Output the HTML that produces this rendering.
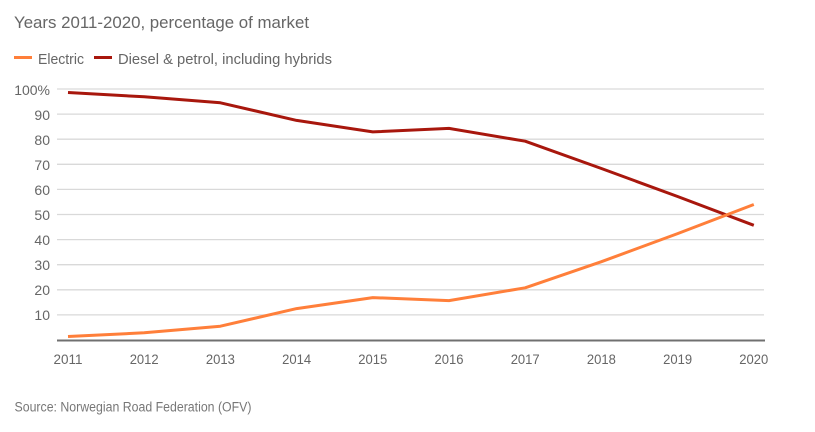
<!DOCTYPE html>
<html>
<head>
<meta charset="utf-8">
<style>
html,body{margin:0;padding:0;background:#fff;}
svg{display:block;}
text{font-family:"Liberation Sans",sans-serif;}
</style>
</head>
<body>
<svg width="815" height="432" viewBox="0 0 815 432" xmlns="http://www.w3.org/2000/svg">
<rect width="815" height="432" fill="#fff"/>
<text x="14" y="28" font-size="17" fill="#666" textLength="295" lengthAdjust="spacingAndGlyphs">Years 2011-2020, percentage of market</text>

<line x1="14" y1="57.5" x2="32" y2="57.5" stroke="#ff7f3a" stroke-width="3"/>
<text x="38" y="64" font-size="15" fill="#666" textLength="46" lengthAdjust="spacingAndGlyphs">Electric</text>
<line x1="94" y1="57.5" x2="112" y2="57.5" stroke="#a8170d" stroke-width="3"/>
<text x="118" y="64" font-size="15" fill="#666" textLength="214" lengthAdjust="spacingAndGlyphs">Diesel &amp; petrol, including hybrids</text>

<g stroke="#d9d9d9" stroke-width="1.3">
<line x1="57" y1="89" x2="764" y2="89"/>
<line x1="57" y1="114.1" x2="764" y2="114.1"/>
<line x1="57" y1="139.2" x2="764" y2="139.2"/>
<line x1="57" y1="164.3" x2="764" y2="164.3"/>
<line x1="57" y1="189.4" x2="764" y2="189.4"/>
<line x1="57" y1="214.5" x2="764" y2="214.5"/>
<line x1="57" y1="239.6" x2="764" y2="239.6"/>
<line x1="57" y1="264.7" x2="764" y2="264.7"/>
<line x1="57" y1="289.8" x2="764" y2="289.8"/>
<line x1="57" y1="314.9" x2="764" y2="314.9"/>
</g>

<g font-size="14" fill="#666" text-anchor="end">
<text x="50" y="95">100%</text>
<text x="50" y="120">90</text>
<text x="50" y="145">80</text>
<text x="50" y="170">70</text>
<text x="50" y="195">60</text>
<text x="50" y="220">50</text>
<text x="50" y="245">40</text>
<text x="50" y="270">30</text>
<text x="50" y="295">20</text>
<text x="50" y="320">10</text>
</g>

<polyline fill="none" stroke="#a8170d" stroke-width="3" stroke-linejoin="round" points="68,92.5 144.2,96.8 220.4,102.8 296.6,120.4 372.8,131.9 449,128.4 525.2,141.2 601.4,168.5 677.6,196.5 753.8,225.3"/>
<polyline fill="none" stroke="#ff7f3a" stroke-width="3" stroke-linejoin="round" points="68,336.5 144.2,332.8 220.4,326.2 296.6,308.6 372.8,297.6 449,300.6 525.2,287.8 601.4,261.7 677.6,233.6 753.8,204.5"/>

<line x1="57" y1="340.5" x2="765" y2="340.5" stroke="#707070" stroke-width="2"/>

<g font-size="14" fill="#666" text-anchor="middle">
<text x="68" y="364" textLength="29" lengthAdjust="spacingAndGlyphs">2011</text>
<text x="144.2" y="364" textLength="29" lengthAdjust="spacingAndGlyphs">2012</text>
<text x="220.4" y="364" textLength="29" lengthAdjust="spacingAndGlyphs">2013</text>
<text x="296.6" y="364" textLength="29" lengthAdjust="spacingAndGlyphs">2014</text>
<text x="372.8" y="364" textLength="29" lengthAdjust="spacingAndGlyphs">2015</text>
<text x="449" y="364" textLength="29" lengthAdjust="spacingAndGlyphs">2016</text>
<text x="525.2" y="364" textLength="29" lengthAdjust="spacingAndGlyphs">2017</text>
<text x="601.4" y="364" textLength="29" lengthAdjust="spacingAndGlyphs">2018</text>
<text x="677.6" y="364" textLength="29" lengthAdjust="spacingAndGlyphs">2019</text>
<text x="753.8" y="364" textLength="29" lengthAdjust="spacingAndGlyphs">2020</text>
</g>

<text x="14.5" y="411.5" font-size="13.5" fill="#777" textLength="237" lengthAdjust="spacingAndGlyphs">Source: Norwegian Road Federation (OFV)</text>
</svg>
</body>
</html>
